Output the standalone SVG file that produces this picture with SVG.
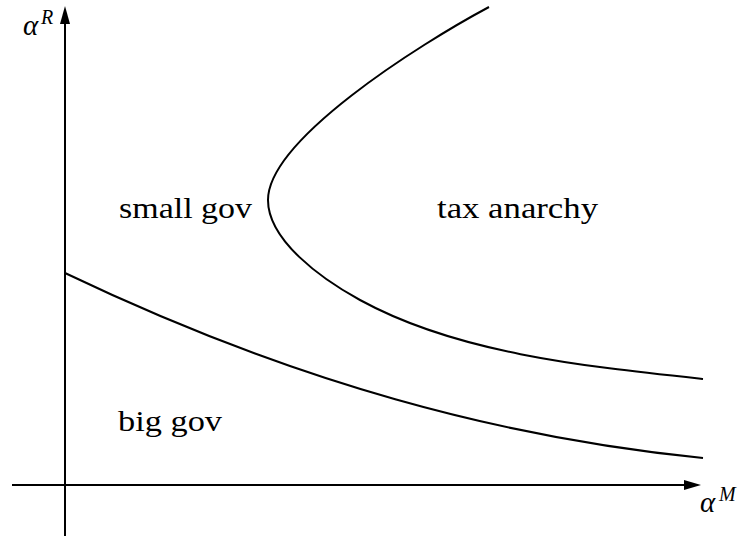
<svg xmlns="http://www.w3.org/2000/svg" width="743" height="536" viewBox="0 0 743 536">
<defs>
<style>
.axis{stroke:#000;stroke-width:2;fill:none}
.curve{stroke:#000;stroke-width:2;fill:none}
.lbl{font-family:"Liberation Serif","Times New Roman",serif;font-size:30px;fill:#000}
.math{font-family:"Liberation Serif","Times New Roman",serif;font-style:italic;fill:#000}
</style>
</defs>
<rect width="743" height="536" fill="#fff"/>
<g id="axes">
<line class="axis" x1="65" y1="536" x2="65" y2="20"/>
<polygon points="65,6 60,24 70,24" fill="#000"/>
<line class="axis" x1="12" y1="485" x2="688" y2="485"/>
<polygon points="701,485 684,480 684,490" fill="#000"/>
</g>
<g id="curves">
<path id="boundary-small" class="curve" d="M489,7 C418,45 268,140 268,200 C268,240 320.5,278.4 360,300 C456.5,352.8 580,365.8 703,379"/>
<path id="boundary-big" class="curve" d="M65,273 C295,383 503,438 703,458"/>
</g>
<g id="labels">
<text class="math" x="23" y="35" font-size="29">α</text>
<text class="math" x="41" y="24" font-size="20">R</text>
<text class="math" x="700" y="512" font-size="29">α</text>
<text class="math" x="719" y="501" font-size="20">M</text>
<text class="lbl" x="119" y="218" textLength="133" lengthAdjust="spacingAndGlyphs">small gov</text>
<text class="lbl" x="437" y="218" textLength="161" lengthAdjust="spacingAndGlyphs">tax anarchy</text>
<text class="lbl" x="118" y="431" textLength="104" lengthAdjust="spacingAndGlyphs">big gov</text>
</g>
</svg>
